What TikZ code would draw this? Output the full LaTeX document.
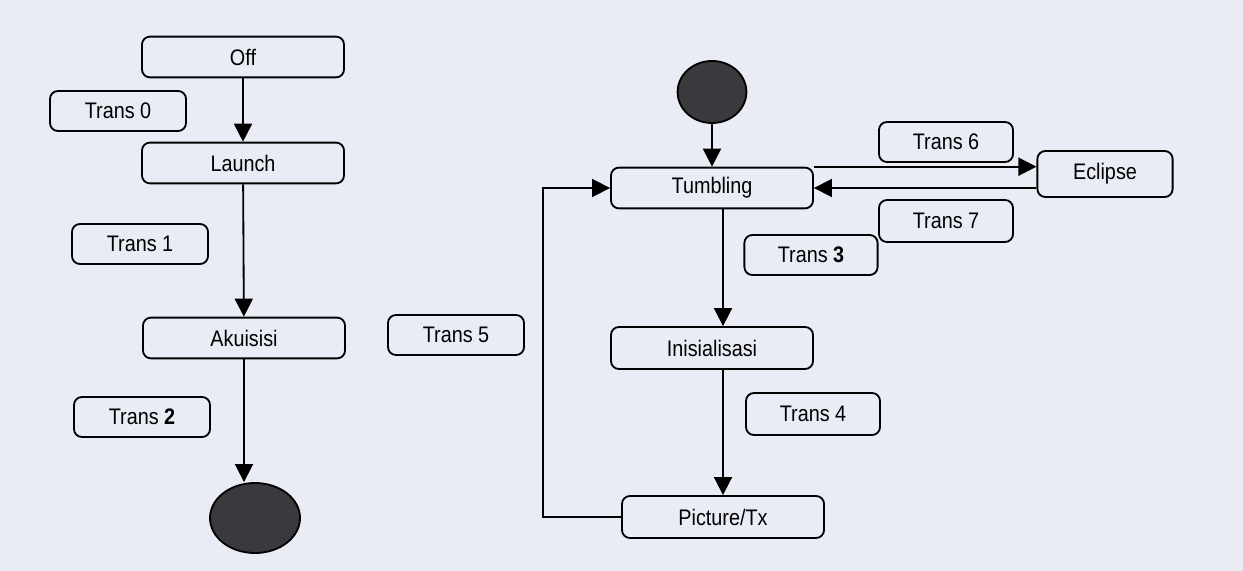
\documentclass[tikz,border=0pt]{standalone}
\usepackage{fontspec}
\setmainfont{Liberation Sans}[FakeStretch=0.88]
\usepackage{tikz}
\usetikzlibrary{arrows.meta, shapes.geometric}

\definecolor{scanbg}{RGB}{233,236,245}
\definecolor{blob}{RGB}{58,58,62}

\begin{document}
\begin{tikzpicture}[x=0.025cm, y=-0.025cm, line width=1.3pt,
    >={Triangle[width=4.5mm, length=4.5mm]},
    state/.style={rectangle, rounded corners=2mm, draw, minimum width=5.05cm, minimum height=1.02cm, inner sep=0pt, font=\fontsize{16}{18}\selectfont},
    trans/.style={rectangle, rounded corners=2mm, draw, minimum width=3.4cm, minimum height=1cm, inner sep=0pt, font=\fontsize{16}{18}\selectfont},
    blobnode/.style={ellipse, draw, fill=blob, inner sep=0pt}]

    % latar hasil pindaian
    \fill[scanbg] (0,0) rectangle (1243,571);

    % alur kiri: peluncuran
    \node[state] (off) at (243,57) {Off};
    \node[trans] (trans0) at (118,111) {Trans 0};
    \node[state] (launch) at (243,163) {Launch};
    \node[trans] (trans1) at (140,244) {Trans 1};
    \node[state] (akui) at (244,338) {Akuisisi};
    \node[trans] (trans2) at (142,417) {Trans \textbf{2}};
    \node[blobnode, minimum width=2.25cm, minimum height=1.75cm] (endc) at (255,518) {};

    \node[trans] (trans5) at (456,335) {Trans 5};

    % alur kanan: operasi
    \node[blobnode, minimum width=1.72cm, minimum height=1.55cm] (startc) at (712,92) {};
    \node[state] (tumb) at (712,188) {Tumbling};
    \node[trans, minimum width=3.35cm] (trans6) at (946,142) {Trans 6};
    \node[state, minimum width=3.38cm, minimum height=1.15cm] (ecl) at (1105,174) {Eclipse};
    \node[trans, minimum width=3.35cm, minimum height=1.05cm] (trans7) at (946,221) {Trans 7};
    \node[trans, minimum width=3.33cm] (trans3) at (811,255) {Trans \textbf{3}};
    \node[state, minimum height=1.05cm] (inis) at (712,348) {Inisialisasi};
    \node[trans, minimum width=3.35cm, minimum height=1.05cm] (trans4) at (813,414) {Trans 4};
    \node[state, minimum height=1.05cm] (pic) at (723,517) {Picture/Tx};

    % panah transisi
    \draw[->] (off) -- (launch);
    \draw[->] (launch) -- (akui);
    \draw[->] (akui.south) -- (akui.south |- endc.north);
    \draw[->] (startc) -- (tumb);
    \draw[->] (pic.north |- tumb.south) -- (pic.north |- inis.north);
    \draw[->] (pic.north |- inis.south) -- (pic.north);
    \draw[->] (pic.west) -- ++(-78,0) |- (tumb.west);
    \draw[->] (tumb.north east) -- (tumb.north east -| ecl.west);
    \draw[->] (ecl.west |- tumb.east) -- (tumb.east);

\end{tikzpicture}
\end{document}
